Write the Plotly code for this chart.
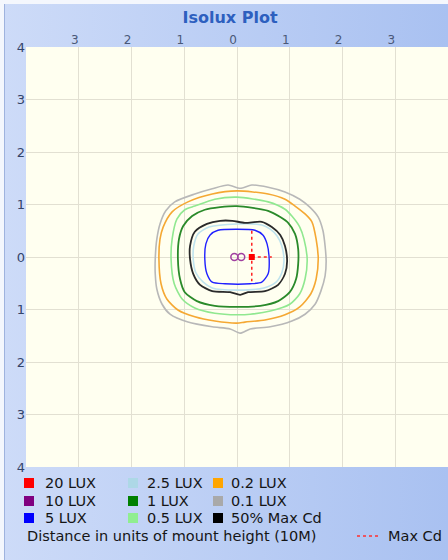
import base64
import plotly.graph_objects as go

# ---------------- data (distance in units of mount height) ----------------
TICK_VALS = [-4, -3, -2, -1, 0, 1, 2, 3, 4]
TICK_TEXT = ["4", "3", "2", "1", "0", "1", "2", "3", "4"]
XTICK_VALS = [-3, -2, -1, 0, 1, 2, 3]
XTICK_TEXT = ["3", "2", "1", "0", "1", "2", "3"]

LUX_01_X = [0.06, 0.28, 0.59, 0.91, 1.19, 1.38, 1.54, 1.63, 1.67, 1.69, 1.67, 1.59, 1.48, 1.29, 1.04, 0.63, 0.25, 0.06,
            -0.13, -0.47, -0.93, -1.27, -1.42, -1.52, -1.55, -1.55, -1.52, -1.46, -1.35, -1.18, -0.80, -0.47, -0.17, 0.06]
LUX_01_Y = [1.31, 1.37, 1.33, 1.24, 1.10, 0.95, 0.76, 0.50, 0.21, -0.08, -0.36, -0.65, -0.90, -1.09, -1.22, -1.33, -1.37, -1.45,
            -1.37, -1.33, -1.24, -1.09, -0.90, -0.61, -0.32, -0.04, 0.34, 0.63, 0.88, 1.05, 1.20, 1.30, 1.37, 1.31]

LUX_02_X = [0.00, 0.59, 0.91, 1.10, 1.29, 1.42, 1.50, 1.54, 1.50, 1.40, 1.19, 0.91, 0.53, 0.15, 0.00,
            -0.42, -0.80, -1.12, -1.33, -1.44, -1.48, -1.46, -1.40, -1.23, -0.93, -0.47, 0.00]
LUX_02_Y = [1.26, 1.20, 1.10, 0.97, 0.82, 0.67, 0.34, -0.04, -0.42, -0.70, -0.95, -1.10, -1.20, -1.24, -1.26,
            -1.22, -1.14, -1.01, -0.80, -0.51, -0.04, 0.34, 0.57, 0.86, 1.05, 1.20, 1.26]

LUX_05_X = [0.00, 0.59, 0.91, 1.04, 1.19, 1.27, 1.33, 1.29, 1.19, 1.00, 0.63, 0.25, 0.00,
            -0.42, -0.80, -1.04, -1.19, -1.25, -1.23, -1.14, -0.99, -0.80, -0.42, 0.00]
LUX_05_Y = [1.14, 1.05, 0.91, 0.78, 0.57, 0.34, -0.04, -0.42, -0.70, -0.90, -1.03, -1.09, -1.10,
            -1.07, -0.97, -0.80, -0.51, -0.04, 0.34, 0.72, 0.90, 0.97, 1.10, 1.14]

LUX_1_X = [0.00, 0.59, 0.82, 0.97, 1.10, 1.16, 1.16, 1.12, 1.00, 0.78, 0.44, 0.00,
           -0.42, -0.76, -0.99, -1.08, -1.12, -1.10, -1.02, -0.85, -0.61, -0.32, 0.00]
LUX_1_Y = [0.97, 0.88, 0.76, 0.65, 0.44, 0.15, -0.13, -0.42, -0.67, -0.84, -0.93, -0.95,
           -0.93, -0.84, -0.67, -0.42, -0.04, 0.34, 0.59, 0.78, 0.90, 0.95, 0.97]

HALF_MAX_X = [-0.09, 0.15, 0.47, 0.66, 0.82, 0.91, 0.95, 0.91, 0.78, 0.53, 0.21, 0.06,
              -0.13, -0.47, -0.70, -0.83, -0.89, -0.89, -0.80, -0.57, -0.32, -0.09]
HALF_MAX_Y = [0.69, 0.65, 0.67, 0.57, 0.42, 0.21, -0.08, -0.32, -0.53, -0.65, -0.67, -0.72,
              -0.67, -0.65, -0.53, -0.32, -0.04, 0.21, 0.48, 0.63, 0.69, 0.69]

LUX_25_X = [0.00, 0.47, 0.63, 0.76, 0.85, 0.89, 0.85, 0.74, 0.51, 0.00,
            -0.47, -0.64, -0.78, -0.83, -0.82, -0.74, -0.53, 0.00]
LUX_25_Y = [0.63, 0.61, 0.53, 0.40, 0.21, -0.08, -0.30, -0.48, -0.59, -0.63,
            -0.59, -0.48, -0.30, -0.04, 0.21, 0.44, 0.57, 0.63]

LUX_5_X = [0.00, 0.34, 0.49, 0.57, 0.61, 0.59, 0.47, 0.25, -0.23, -0.47, -0.57, -0.61, -0.59, -0.51, -0.36, 0.00]
LUX_5_Y = [0.53, 0.51, 0.42, 0.25, -0.04, -0.32, -0.48, -0.51, -0.51, -0.48, -0.32, -0.04, 0.25, 0.42, 0.51, 0.53]

LUX_10_X = [-0.05, 0.08]
LUX_10_Y = [0.0, 0.0]

LUX_20_X = [0.28]
LUX_20_Y = [0.0]

MAXCD_V_X = [0.28, 0.28]
MAXCD_V_Y = [0.50, -0.46]
MAXCD_H_X = [0.28, 0.66]
MAXCD_H_Y = [0.0, 0.0]

LEGEND_LABELS = ["20 LUX", "10 LUX", "5 LUX", "2.5 LUX", "1 LUX", "0.5 LUX", "0.2 LUX", "0.1 LUX", "50% Max Cd"]
LEGEND_COLORS = ["#ff0000", "#800080", "#0000ff", "#add8e6", "#008000", "#90ee90", "#ffa500", "#a9a9a9", "#000000"]

# ---------------- geometry (pixels) ----------------
W, H = 448, 560
ML, MR, MT, MB = 26, 0, 47, 93
PW, PH = W - ML - MR, H - MT - MB


def px(xp):
    return (xp - ML) / PW


def py(yp):
    return (MT + PH - yp) / PH


fig = go.Figure()

contours = [
    (LUX_01_X, LUX_01_Y, "#b8b8b8", 1.6),
    (LUX_02_X, LUX_02_Y, "#f5a833", 1.6),
    (LUX_05_X, LUX_05_Y, "#90e890", 1.6),
    (LUX_1_X, LUX_1_Y, "#2a8a2a", 1.8),
    (LUX_25_X, LUX_25_Y, "#bfe3ee", 1.6),
    (HALF_MAX_X, HALF_MAX_Y, "#2a2a2a", 1.8),
    (LUX_5_X, LUX_5_Y, "#2020ff", 1.4),
]
for xs, ys, col, wd in contours:
    fig.add_trace(go.Scatter(x=xs, y=ys, mode="lines", line=dict(color=col, width=wd, shape="spline", smoothing=0.7),
                             showlegend=False, hoverinfo="skip"))

fig.add_trace(go.Scatter(x=MAXCD_V_X, y=MAXCD_V_Y, mode="lines",
                         line=dict(color="#ff2020", width=1.5, dash="3px,3px"), showlegend=False))
fig.add_trace(go.Scatter(x=MAXCD_H_X, y=MAXCD_H_Y, mode="lines",
                         line=dict(color="#ff2020", width=1.5, dash="3px,3px"), showlegend=False))
fig.add_trace(go.Scatter(x=LUX_10_X, y=LUX_10_Y, mode="markers",
                         marker=dict(symbol="circle-open", size=7, color="#a040a0", line=dict(width=1.5)),
                         showlegend=False))
fig.add_trace(go.Scatter(x=LUX_20_X, y=LUX_20_Y, mode="markers",
                         marker=dict(symbol="square", size=6, color="#ff0000"), showlegend=False))

# ---------------- background (gradient panel + plot area) ----------------
svg = (
    f'<svg xmlns="http://www.w3.org/2000/svg" width="{W}" height="{H}" viewBox="0 0 {W} {H}" preserveAspectRatio="none">'
    '<defs><linearGradient id="g" x1="0" x2="1" y1="0" y2="0">'
    '<stop offset="0" stop-color="#cddbf8"/><stop offset="1" stop-color="#a9c1f1"/></linearGradient></defs>'
    f'<rect x="0" y="0" width="{W}" height="{H}" fill="#f4f7fd"/>'
    f'<rect x="4" y="4" width="{W-4}" height="{H-4}" fill="url(#g)"/>'
    f'<rect x="4" y="4" width="1" height="{H-4}" fill="#9fb3de"/>'
    f'<rect x="{ML}" y="{MT}" width="{PW}" height="{PH}" fill="#fffff0"/>'
    '</svg>'
)
src = "data:image/svg+xml;base64," + base64.b64encode(svg.encode()).decode()
fig.add_layout_image(dict(source=src, xref="paper", yref="paper", x=px(0), y=py(0),
                          sizex=W / PW, sizey=H / PH, xanchor="left", yanchor="top",
                          sizing="stretch", layer="below"))

# ---------------- legend (drawn manually) ----------------
col_sq = [24, 128, 213]
col_tx = [44, 146, 230]
row_y = [483, 501, 518]
LEG_FONT = dict(family="DejaVu Sans", size=14.5, color="#151515")
shapes = []
annotations = []
for i, (lab, col) in enumerate(zip(LEGEND_LABELS, LEGEND_COLORS)):
    c, r = i // 3, i % 3
    shapes.append(dict(type="rect", xref="paper", yref="paper",
                       x0=px(col_sq[c]), x1=px(col_sq[c] + 10), y0=py(row_y[r] - 5), y1=py(row_y[r] + 5),
                       fillcolor=col, line=dict(width=0)))
    annotations.append(dict(text=lab, xref="paper", yref="paper", x=px(col_tx[c] - 1), y=py(row_y[r]),
                            xanchor="left", yanchor="middle", showarrow=False, font=LEG_FONT))

annotations.append(dict(text="Distance in units of mount height (10M)", xref="paper", yref="paper",
                        x=px(25), y=py(536), xanchor="left", yanchor="middle", showarrow=False, font=LEG_FONT))
annotations.append(dict(text="Max Cd", xref="paper", yref="paper",
                        x=px(386), y=py(536), xanchor="left", yanchor="middle", showarrow=False, font=LEG_FONT))
shapes.append(dict(type="line", xref="paper", yref="paper", x0=px(357), x1=px(380), y0=py(536), y1=py(536),
                   line=dict(color="#ff3030", width=1.3, dash="3px,3px")))

fig.update_layout(
    width=W, height=H,
    margin=dict(l=ML, r=MR, t=MT, b=MB),
    paper_bgcolor="#c6d6f6",
    plot_bgcolor="rgba(0,0,0,0)",
    title=dict(text="<b>Isolux Plot</b>", x=px(230), xref="paper", xanchor="center",
               y=1 - 17 / H, yref="container", yanchor="middle",
               font=dict(family="DejaVu Sans", size=16, color="#2d5fbf")),
    xaxis=dict(range=[-4, 4], side="top", tickvals=XTICK_VALS, ticktext=XTICK_TEXT,
               showgrid=True, gridcolor="#e2e0d2", gridwidth=1, zeroline=False, showline=False, ticks="",
               tickfont=dict(family="DejaVu Sans", size=12, color="#4a5878"), ticklabelshift=-4,
               fixedrange=True),
    yaxis=dict(range=[-4, 4], tickvals=TICK_VALS, ticktext=TICK_TEXT,
               showgrid=True, gridcolor="#e2e0d2", gridwidth=1, zeroline=False, showline=False, ticks="",
               tickfont=dict(family="DejaVu Sans", size=13, color="#34446a"), fixedrange=True),
    shapes=shapes,
    annotations=annotations,
    showlegend=False,
)

fig.write_html("out.html", config={"displayModeBar": False},
               post_script="document.body.style.margin='0';document.body.style.overflow='hidden';")
